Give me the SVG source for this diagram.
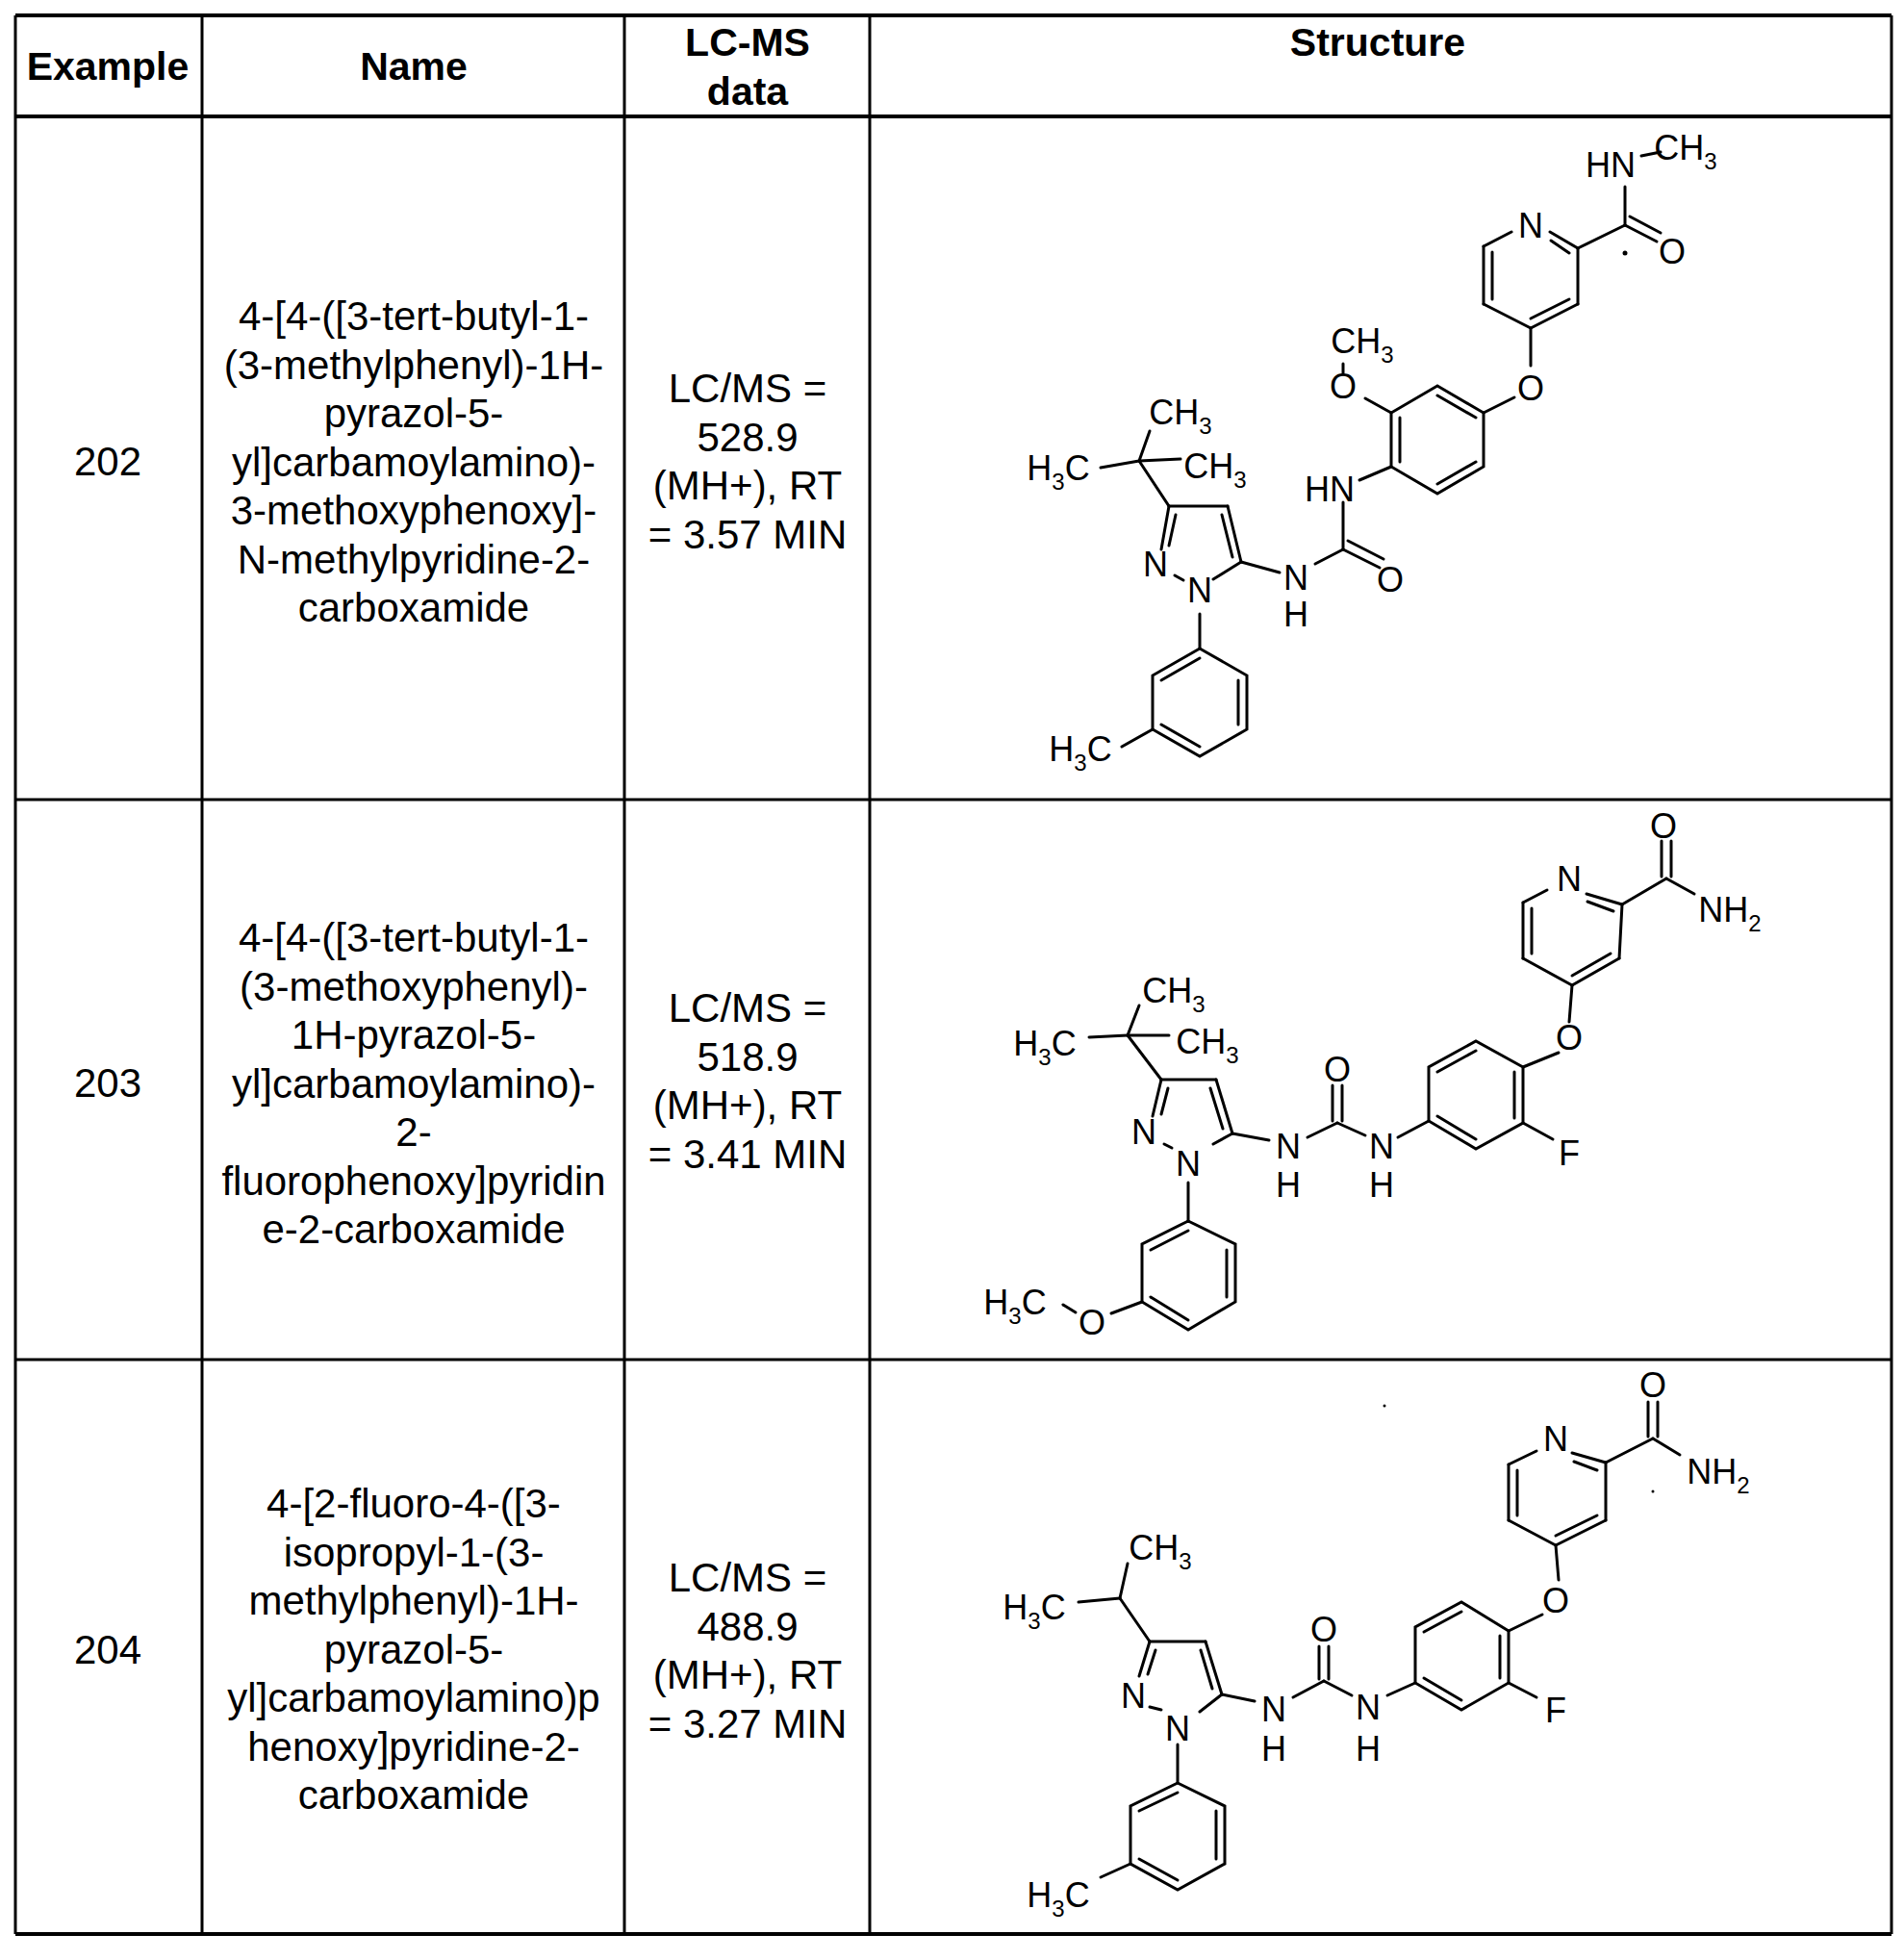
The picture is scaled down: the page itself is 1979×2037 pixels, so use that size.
<svg xmlns="http://www.w3.org/2000/svg" width="1979" height="2037" viewBox="0 0 1979 2037">
<style>
.t{font-family:"Liberation Sans",Arial,sans-serif;font-size:42px;text-anchor:middle;fill:#000}
.h{font-family:"Liberation Sans",Arial,sans-serif;font-size:41px;font-weight:bold;text-anchor:middle;fill:#000}
.a{font-family:"Liberation Sans",Arial,sans-serif;font-size:36px;text-anchor:middle;fill:#000}
.s{font-size:24px}
.grid line{stroke:#000;stroke-width:3}
.b line,.b polyline{stroke:#000;stroke-width:3;fill:none;stroke-linecap:round}
</style>
<rect width="1979" height="2037" fill="#fff"/>
<g id="table" class="grid">
<line x1="16" y1="16" x2="1966" y2="16" style="stroke-width:4"/>
<line x1="16" y1="121" x2="1966" y2="121" style="stroke-width:4"/>
<line x1="16" y1="831" x2="1966" y2="831"/>
<line x1="16" y1="1413" x2="1966" y2="1413"/>
<line x1="16" y1="2010" x2="1966" y2="2010" style="stroke-width:4"/>
<line x1="16" y1="16" x2="16" y2="2010"/>
<line x1="210" y1="16" x2="210" y2="2010"/>
<line x1="649" y1="16" x2="649" y2="2010"/>
<line x1="904" y1="16" x2="904" y2="2010"/>
<line x1="1966" y1="16" x2="1966" y2="2010"/>
</g>
<g id="header">
<text class="h" x="112" y="83">Example</text>
<text class="h" x="430" y="83">Name</text>
<text class="h" x="777" y="58">LC-MS</text>
<text class="h" x="777" y="109">data</text>
<text class="h" x="1432" y="58">Structure</text>
</g>
<g id="row202">
<text class="t" x="112" y="494">202</text>
<text class="t" x="430" y="343">4-[4-([3-tert-butyl-1-</text>
<text class="t" x="430" y="394">(3-methylphenyl)-1H-</text>
<text class="t" x="430" y="444">pyrazol-5-</text>
<text class="t" x="430" y="495">yl]carbamoylamino)-</text>
<text class="t" x="430" y="545">3-methoxyphenoxy]-</text>
<text class="t" x="430" y="596">N-methylpyridine-2-</text>
<text class="t" x="430" y="646">carboxamide</text>
<text class="t" x="777" y="418">LC/MS =</text>
<text class="t" x="777" y="469">528.9</text>
<text class="t" x="777" y="519">(MH+), RT</text>
<text class="t" x="777" y="570">= 3.57 MIN</text>
</g>
<g id="row203">
<text class="t" x="112" y="1140">203</text>
<text class="t" x="430" y="989">4-[4-([3-tert-butyl-1-</text>
<text class="t" x="430" y="1040">(3-methoxyphenyl)-</text>
<text class="t" x="430" y="1090">1H-pyrazol-5-</text>
<text class="t" x="430" y="1141">yl]carbamoylamino)-</text>
<text class="t" x="430" y="1191">2-</text>
<text class="t" x="430" y="1242">fluorophenoxy]pyridin</text>
<text class="t" x="430" y="1292">e-2-carboxamide</text>
<text class="t" x="777" y="1062">LC/MS =</text>
<text class="t" x="777" y="1113">518.9</text>
<text class="t" x="777" y="1163">(MH+), RT</text>
<text class="t" x="777" y="1214">= 3.41 MIN</text>
</g>
<g id="row204">
<text class="t" x="112" y="1729">204</text>
<text class="t" x="430" y="1577">4-[2-fluoro-4-([3-</text>
<text class="t" x="430" y="1628">isopropyl-1-(3-</text>
<text class="t" x="430" y="1678">methylphenyl)-1H-</text>
<text class="t" x="430" y="1729">pyrazol-5-</text>
<text class="t" x="430" y="1779">yl]carbamoylamino)p</text>
<text class="t" x="430" y="1830">henoxy]pyridine-2-</text>
<text class="t" x="430" y="1880">carboxamide</text>
<text class="t" x="777" y="1654">LC/MS =</text>
<text class="t" x="777" y="1705">488.9</text>
<text class="t" x="777" y="1755">(MH+), RT</text>
<text class="t" x="777" y="1806">= 3.27 MIN</text>
</g>
<g id="structure202" class="b">
<line x1="1571" y1="241" x2="1542" y2="256"/><line x1="1542" y1="256" x2="1542" y2="316"/><line x1="1542" y1="316" x2="1591" y2="341"/><line x1="1591" y1="341" x2="1640" y2="316"/><line x1="1640" y1="316" x2="1640" y2="258"/><line x1="1640" y1="258" x2="1611" y2="241"/>
<line x1="1612" y1="250" x2="1631" y2="263"/><line x1="1631" y1="311" x2="1591" y2="331"/><line x1="1551" y1="311" x2="1551" y2="262"/>
<line x1="1640" y1="258" x2="1689" y2="234"/><line x1="1689" y1="234" x2="1689" y2="194"/><line x1="1689" y1="234" x2="1722" y2="251"/><line x1="1694" y1="225" x2="1726" y2="242"/>
<line x1="1706" y1="162" x2="1726" y2="158"/>
<line x1="1591" y1="341" x2="1591" y2="380"/><line x1="1574" y1="413" x2="1542" y2="429"/>
<polyline points="1494,401 1542,429 1542,485 1494,513 1446,485 1446,429 1494,401"/>
<line x1="1455" y1="434" x2="1455" y2="480"/><line x1="1494" y1="411" x2="1534" y2="434"/><line x1="1534" y1="480" x2="1494" y2="503"/>
<line x1="1446" y1="429" x2="1419" y2="414"/><line x1="1396" y1="388" x2="1396" y2="378"/>
<line x1="1446" y1="485" x2="1413" y2="499"/><line x1="1396" y1="522" x2="1396" y2="571"/>
<line x1="1396" y1="571" x2="1434" y2="590"/><line x1="1401" y1="562" x2="1438" y2="581"/>
<line x1="1396" y1="571" x2="1367" y2="586"/><line x1="1330" y1="595" x2="1290" y2="584"/>
<line x1="1215" y1="526" x2="1276" y2="526"/><line x1="1276" y1="526" x2="1290" y2="584"/><line x1="1290" y1="584" x2="1261" y2="602"/><line x1="1221" y1="598" x2="1230" y2="603"/><line x1="1207" y1="571" x2="1215" y2="526"/>
<line x1="1270" y1="535" x2="1281" y2="579"/><line x1="1215" y1="567" x2="1222" y2="535"/>
<line x1="1215" y1="526" x2="1184" y2="479"/><line x1="1184" y1="479" x2="1195" y2="448"/><line x1="1184" y1="479" x2="1144" y2="486"/><line x1="1184" y1="479" x2="1227" y2="477"/>
<line x1="1247" y1="638" x2="1247" y2="674"/>
<polyline points="1247,674 1296,702 1296,758 1247,786 1198,758 1198,702 1247,674"/>
<line x1="1247" y1="684" x2="1207" y2="707"/><line x1="1287" y1="707" x2="1287" y2="753"/><line x1="1207" y1="753" x2="1247" y2="776"/>
<line x1="1198" y1="758" x2="1166" y2="776"/>
<circle cx="1689" cy="263" r="2.5" fill="#000" stroke="none"/>
<text class="a" x="1674" y="184">HN</text>
<text class="a" x="1752" y="166">CH<tspan class="s" dy="10">3</tspan></text>
<text class="a" x="1738" y="274">O</text>
<text class="a" x="1591" y="247">N</text>
<text class="a" x="1591" y="416">O</text>
<text class="a" x="1416" y="367">CH<tspan class="s" dy="10">3</tspan></text>
<text class="a" x="1396" y="414">O</text>
<text class="a" x="1382" y="521">HN</text>
<text class="a" x="1445" y="615">O</text>
<text class="a" x="1347" y="613">N</text>
<text class="a" x="1347" y="651">H</text>
<text class="a" x="1201" y="599">N</text>
<text class="a" x="1247" y="626">N</text>
<text class="a" x="1227" y="441">CH<tspan class="s" dy="10">3</tspan></text>
<text class="a" x="1100" y="499">H<tspan class="s" dy="10">3</tspan><tspan dy="-10">C</tspan></text>
<text class="a" x="1263" y="497">CH<tspan class="s" dy="10">3</tspan></text>
<text class="a" x="1123" y="791">H<tspan class="s" dy="10">3</tspan><tspan dy="-10">C</tspan></text>
</g>
<g id="structure203" class="b">
<line x1="1583" y1="938" x2="1608" y2="925"/><line x1="1583" y1="938" x2="1583" y2="996"/><line x1="1583" y1="996" x2="1634" y2="1024"/><line x1="1634" y1="1024" x2="1683" y2="996"/><line x1="1683" y1="996" x2="1686" y2="940"/><line x1="1686" y1="940" x2="1649" y2="929"/>
<line x1="1650" y1="937" x2="1677" y2="947"/><line x1="1674" y1="991" x2="1634" y2="1014"/><line x1="1592" y1="991" x2="1592" y2="944"/>
<line x1="1686" y1="940" x2="1732" y2="913"/><line x1="1727" y1="911" x2="1727" y2="874"/><line x1="1737" y1="911" x2="1737" y2="874"/><line x1="1732" y1="913" x2="1761" y2="929"/>
<line x1="1634" y1="1024" x2="1631" y2="1062"/><line x1="1620" y1="1094" x2="1583" y2="1109"/>
<polyline points="1583,1109 1534,1082 1485,1109 1485,1165 1534,1194 1583,1167 1583,1109"/>
<line x1="1534" y1="1092" x2="1494" y2="1114"/><line x1="1574" y1="1114" x2="1574" y2="1162"/><line x1="1494" y1="1160" x2="1534" y2="1184"/>
<line x1="1583" y1="1167" x2="1614" y2="1184"/>
<line x1="1485" y1="1165" x2="1453" y2="1182"/><line x1="1419" y1="1180" x2="1390" y2="1167"/><line x1="1390" y1="1167" x2="1359" y2="1182"/>
<line x1="1385" y1="1165" x2="1385" y2="1128"/><line x1="1395" y1="1165" x2="1395" y2="1128"/>
<line x1="1319" y1="1185" x2="1281" y2="1178"/>
<line x1="1207" y1="1122" x2="1264" y2="1122"/><line x1="1264" y1="1122" x2="1281" y2="1178"/><line x1="1281" y1="1178" x2="1261" y2="1189"/><line x1="1210" y1="1189" x2="1218" y2="1193"/><line x1="1198" y1="1160" x2="1207" y2="1122"/>
<line x1="1258" y1="1131" x2="1271" y2="1173"/><line x1="1207" y1="1158" x2="1214" y2="1131"/>
<line x1="1207" y1="1122" x2="1172" y2="1076"/><line x1="1172" y1="1076" x2="1184" y2="1045"/><line x1="1172" y1="1076" x2="1132" y2="1078"/><line x1="1172" y1="1076" x2="1215" y2="1076"/>
<line x1="1235" y1="1229" x2="1235" y2="1269"/>
<polyline points="1235,1269 1284,1293 1284,1353 1235,1382 1187,1353 1187,1293 1235,1269"/>
<line x1="1235" y1="1279" x2="1196" y2="1299"/><line x1="1275" y1="1299" x2="1275" y2="1348"/><line x1="1196" y1="1348" x2="1235" y2="1372"/>
<line x1="1187" y1="1353" x2="1155" y2="1365"/><line x1="1118" y1="1364" x2="1105" y2="1356"/>
<text class="a" x="1729" y="871">O</text>
<text class="a" x="1631" y="926">N</text>
<text class="a" x="1798" y="958">NH<tspan class="s" dy="10">2</tspan></text>
<text class="a" x="1631" y="1091">O</text>
<text class="a" x="1631" y="1211">F</text>
<text class="a" x="1436" y="1204">N</text>
<text class="a" x="1436" y="1244">H</text>
<text class="a" x="1390" y="1124">O</text>
<text class="a" x="1339" y="1204">N</text>
<text class="a" x="1339" y="1244">H</text>
<text class="a" x="1189" y="1189">N</text>
<text class="a" x="1235" y="1222">N</text>
<text class="a" x="1220" y="1042">CH<tspan class="s" dy="10">3</tspan></text>
<text class="a" x="1086" y="1097">H<tspan class="s" dy="10">3</tspan><tspan dy="-10">C</tspan></text>
<text class="a" x="1255" y="1095">CH<tspan class="s" dy="10">3</tspan></text>
<text class="a" x="1135" y="1387">O</text>
<text class="a" x="1055" y="1366">H<tspan class="s" dy="10">3</tspan><tspan dy="-10">C</tspan></text>
</g>
<g id="structure204" class="b">
<line x1="1568" y1="1522" x2="1597" y2="1508"/><line x1="1568" y1="1522" x2="1568" y2="1580"/><line x1="1568" y1="1580" x2="1617" y2="1606"/><line x1="1617" y1="1606" x2="1669" y2="1580"/><line x1="1669" y1="1580" x2="1669" y2="1520"/><line x1="1669" y1="1520" x2="1634" y2="1510"/>
<line x1="1636" y1="1519" x2="1660" y2="1528"/><line x1="1660" y1="1575" x2="1617" y2="1596"/><line x1="1577" y1="1575" x2="1577" y2="1528"/>
<line x1="1669" y1="1520" x2="1718" y2="1495"/><line x1="1713" y1="1493" x2="1713" y2="1457"/><line x1="1723" y1="1493" x2="1723" y2="1457"/><line x1="1718" y1="1495" x2="1746" y2="1512"/>
<line x1="1617" y1="1606" x2="1620" y2="1642"/><line x1="1603" y1="1678" x2="1568" y2="1695"/>
<polyline points="1568,1695 1519,1665 1471,1691 1471,1749 1519,1777 1568,1749 1568,1695"/>
<line x1="1519" y1="1675" x2="1480" y2="1696"/><line x1="1559" y1="1700" x2="1559" y2="1744"/><line x1="1480" y1="1744" x2="1519" y2="1767"/>
<line x1="1568" y1="1749" x2="1597" y2="1764"/>
<line x1="1471" y1="1749" x2="1442" y2="1762"/><line x1="1405" y1="1762" x2="1376" y2="1747"/><line x1="1376" y1="1747" x2="1344" y2="1764"/>
<line x1="1371" y1="1745" x2="1371" y2="1711"/><line x1="1381" y1="1745" x2="1381" y2="1711"/>
<line x1="1304" y1="1768" x2="1270" y2="1761"/>
<line x1="1195" y1="1706" x2="1253" y2="1706"/><line x1="1253" y1="1706" x2="1270" y2="1761"/><line x1="1270" y1="1761" x2="1247" y2="1779"/><line x1="1195" y1="1774" x2="1207" y2="1777"/><line x1="1184" y1="1742" x2="1195" y2="1706"/>
<line x1="1248" y1="1715" x2="1260" y2="1755"/><line x1="1193" y1="1740" x2="1201" y2="1715"/>
<line x1="1195" y1="1706" x2="1164" y2="1661"/><line x1="1164" y1="1661" x2="1172" y2="1625"/><line x1="1164" y1="1661" x2="1121" y2="1665"/>
<line x1="1224" y1="1813" x2="1224" y2="1853"/>
<polyline points="1224,1853 1273,1877 1273,1937 1224,1964 1175,1937 1175,1877 1224,1853"/>
<line x1="1224" y1="1863" x2="1184" y2="1882"/><line x1="1264" y1="1882" x2="1264" y2="1932"/><line x1="1184" y1="1932" x2="1224" y2="1954"/>
<line x1="1175" y1="1937" x2="1144" y2="1951"/>
<circle cx="1718" cy="1550" r="1.5" fill="#000" stroke="none"/>
<circle cx="1439" cy="1461" r="1.5" fill="#000" stroke="none"/>
<text class="a" x="1718" y="1452">O</text>
<text class="a" x="1617" y="1508">N</text>
<text class="a" x="1786" y="1542">NH<tspan class="s" dy="10">2</tspan></text>
<text class="a" x="1617" y="1676">O</text>
<text class="a" x="1617" y="1790">F</text>
<text class="a" x="1422" y="1787">N</text>
<text class="a" x="1422" y="1830">H</text>
<text class="a" x="1376" y="1706">O</text>
<text class="a" x="1324" y="1789">N</text>
<text class="a" x="1324" y="1830">H</text>
<text class="a" x="1178" y="1775">N</text>
<text class="a" x="1224" y="1809">N</text>
<text class="a" x="1206" y="1621">CH<tspan class="s" dy="10">3</tspan></text>
<text class="a" x="1075" y="1683">H<tspan class="s" dy="10">3</tspan><tspan dy="-10">C</tspan></text>
<text class="a" x="1100" y="1982">H<tspan class="s" dy="10">3</tspan><tspan dy="-10">C</tspan></text>
</g>
</svg>
